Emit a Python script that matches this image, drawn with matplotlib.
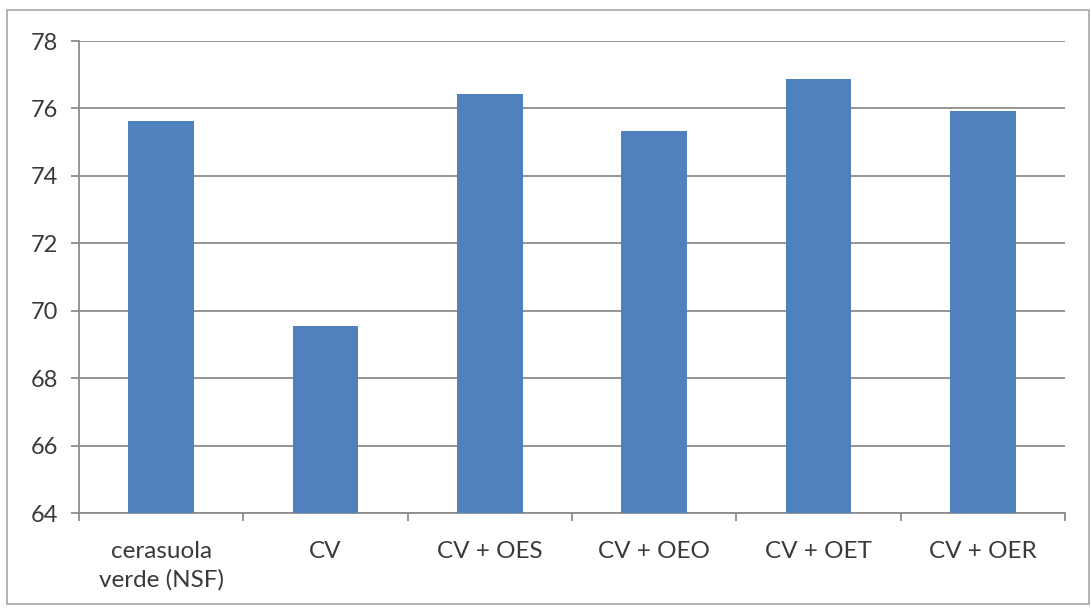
import matplotlib.pyplot as plt
from matplotlib.patches import Rectangle

categories = ["cerasuola\nverde (NSF)", "CV", "CV + OES", "CV + OEO", "CV + OET", "CV + OER"]
values = [75.63, 69.55, 76.43, 75.33, 76.87, 75.93]
yticks = [64, 66, 68, 70, 72, 74, 76, 78]

plt.rcParams['font.family'] = ['Lato', 'DejaVu Sans']

fig = plt.figure(figsize=(10.91, 6.08), dpi=100)
ax = fig.add_axes([79 / 1091, 1 - 513 / 608, (1065 - 79) / 1091, (513 - 41) / 608])

x = range(len(categories))
ax.bar(x, values, width=0.4, bottom=0, color="#4F81BD", zorder=3)

ax.set_ylim(64, 78)
ax.set_xlim(-0.5, len(categories) - 0.5)
ax.set_yticks(yticks)
ax.set_yticklabels([str(t) for t in yticks], fontsize=17, color="#3a3a3a")
ax.grid(axis="y", color="#8c8c8c", linewidth=1.3, zorder=0)

# category labels centred, tick marks on category boundaries
ax.set_xticks(list(x))
ax.set_xticklabels(categories, fontsize=17.5, color="#3a3a3a", linespacing=1.4)
ax.tick_params(axis="x", length=0, pad=20)
ax.set_xticks([i - 0.5 for i in range(len(categories) + 1)], minor=True)
ax.tick_params(axis="x", which="minor", length=6, color="#8c8c8c", width=1.3)
ax.tick_params(axis="y", length=6, color="#8c8c8c", width=1.3, pad=9)

for side in ["top", "right"]:
    ax.spines[side].set_visible(False)
for side in ["left", "bottom"]:
    ax.spines[side].set_color("#8c8c8c")
    ax.spines[side].set_linewidth(1.3)

# chart area border
fig.patches.append(Rectangle((7 / 1091, 4 / 608), 1082 / 1091, 594 / 608,
                             transform=fig.transFigure, fill=False,
                             edgecolor="#a6a6a6", linewidth=1.2))

fig.savefig("out.png", dpi=100)
